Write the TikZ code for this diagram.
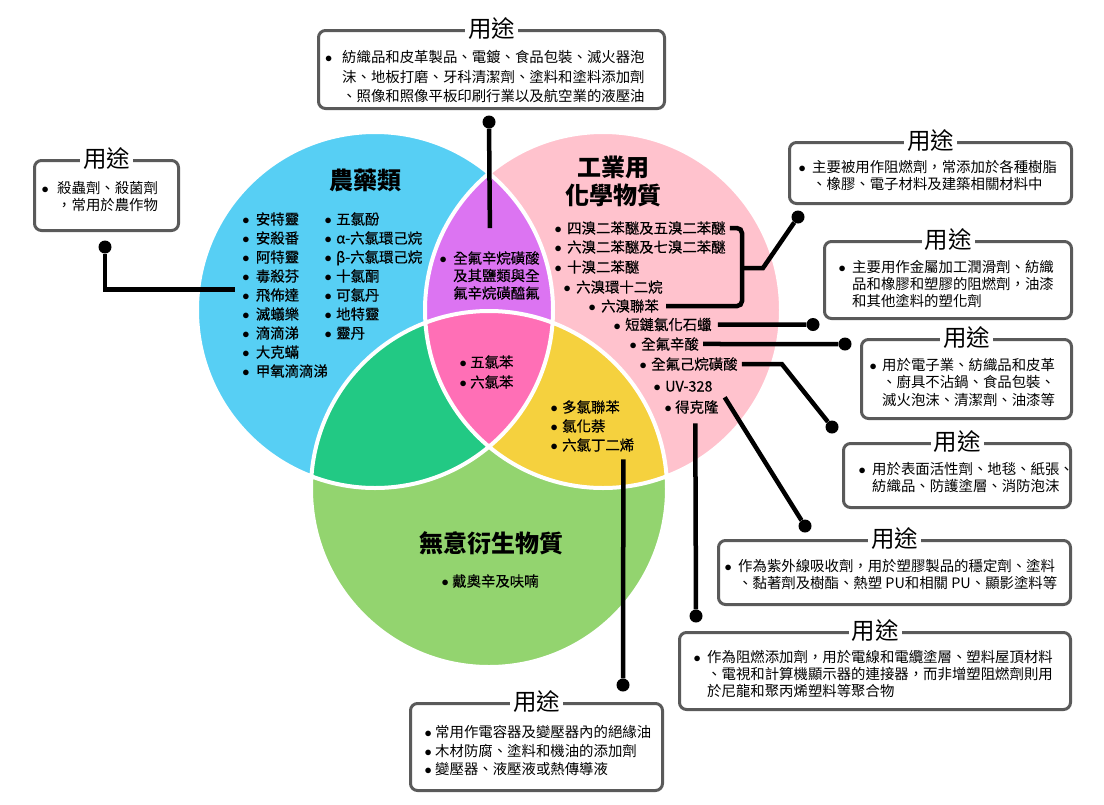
\documentclass[tikz,border=0pt]{standalone}
\usepackage{fontspec}
\setmainfont{Noto Sans CJK TC}
\newfontfamily\listfont{Noto Sans CJK TC}[FakeBold=0.4]
\usetikzlibrary{positioning}
\definecolor{pestblue}{HTML}{57CFF4}
\definecolor{indupink}{HTML}{FFC2CD}
\definecolor{uningreen}{HTML}{93D46F}
\definecolor{lensviolet}{HTML}{DC74F2}
\definecolor{corepink}{HTML}{FF6FB6}
\definecolor{mixgreen}{HTML}{22C984}
\definecolor{mixyellow}{HTML}{F5D13E}
\definecolor{boxgray}{HTML}{5A5A5A}
\newcommand\bl{\makebox[6pt]{$\bullet$}}
\newcommand\uselist[2][7pt]{\begin{tabular}[t]{@{}l@{\hspace{#1}}l@{}}#2\end{tabular}}

\begin{document}
\begin{tikzpicture}[x=1pt,y=-1pt,
  usebox/.style={draw=boxgray,line width=3pt,rounded corners=7pt,fill=white,inner sep=0pt,anchor=north west},
  usetag/.style={fill=white,inner xsep=3pt,inner ysep=0pt,font=\fontsize{23.5}{26}\selectfont},
  usetext/.style={inner sep=0pt,anchor=base west,font=\fontsize{14.4}{16.8}\selectfont},
  item/.style={inner sep=0pt,anchor=base west,font=\listfont\fontsize{14.4}{19}\selectfont},
  title/.style={inner sep=0pt,align=center,font=\fontsize{24}{28}\selectfont\bfseries},
  enddot/.style={circle,fill=black,inner sep=0pt,minimum size=13pt},
  link/.style={line width=4.5pt}]

\useasboundingbox (0,0) rectangle (1104,804);

% the three circles
\coordinate (pest) at (375,310);
\coordinate (indu) at (603,310);
\coordinate (unin) at (489,489);
\fill[pestblue] (pest) circle[radius=178pt];
\fill[indupink] (indu) circle[radius=178pt];
\fill[uningreen] (unin) circle[radius=178pt];
\begin{scope}
  \clip (pest) circle[radius=178pt];
  \fill[lensviolet] (indu) circle[radius=178pt];
  \fill[mixgreen] (unin) circle[radius=178pt];
\end{scope}
\begin{scope}
  \clip (indu) circle[radius=178pt];
  \fill[mixyellow] (unin) circle[radius=178pt];
  \clip (pest) circle[radius=178pt];
  \fill[corepink] (unin) circle[radius=178pt];
\end{scope}
\draw[white,line width=4pt] (pest) circle[radius=178pt] (indu) circle[radius=178pt] (unin) circle[radius=178pt];

% titles
\node[title] (pesttitle) at (365,180) {農藥類};
\node[title] (indutitle) at (613,181) {工業用\\化學物質};
\node[title] (unintitle) at (491,543) {無意衍生物質};

% lists in the circles
\node[item] (pestA) at (242.7,224.5) {\uselist[7pt]{\bl&安特靈\\\bl&安殺番\\\bl&阿特靈\\\bl&毒殺芬\\\bl&飛佈達\\\bl&滅蟻樂\\\bl&滴滴涕\\\bl&大克蟎\\\bl&甲氧滴滴涕}};
\node[item] (pestB) at (325,224.5) {\uselist[5pt]{\bl&五氯酚\\\bl&α-六氯環己烷\\\bl&β-六氯環己烷\\\bl&十氯酮\\\bl&可氯丹\\\bl&地特靈\\\bl&靈丹}};
\node[item,font=\listfont\fontsize{14.4}{17.5}\selectfont] (pfos) at (440,263.5) {\uselist[7pt]{\bl&全氟辛烷磺酸\\&及其鹽類與全\\&氟辛烷磺醯氟}};
\node[item,font=\listfont\fontsize{14.4}{20}\selectfont] (core) at (460,367.5) {\uselist[4pt]{\bl&五氯苯\\\bl&六氯苯}};
\node[item] (ylist) at (551,412.5) {\uselist[5pt]{\bl&多氯聯苯\\\bl&氯化萘\\\bl&六氯丁二烯}};
\node[item] (dioxin) at (442,586.5) {\uselist[4pt]{\bl&戴奧辛及呋喃}};

\node[item] (pbde) at (555,233.5) {\bl\hspace{6pt}四溴二苯醚及五溴二苯醚};
\node[item] (hbde) at (555,252.5) {\bl\hspace{6pt}六溴二苯醚及七溴二苯醚};
\node[item] (dbde) at (555,272.5) {\bl\hspace{6pt}十溴二苯醚};
\node[item] (hbcd) at (564,292.5) {\bl\hspace{6pt}六溴環十二烷};
\node[item] (pbb) at (589,311.5) {\bl\hspace{6pt}六溴聯苯};
\node[item] (sccp) at (614,330) {\bl\hspace{5pt}短鏈氯化石蠟};
\node[item] (pfoa) at (630,349.5) {\bl\hspace{5pt}全氟辛酸};
\node[item] (pfhxs) at (640,369.5) {\bl\hspace{5pt}全氟己烷磺酸};
\node[item] (uv) at (654,391.5) {\bl\hspace{5pt}UV-328};
\node[item] (dp) at (665,412.5) {\bl\hspace{4pt}得克隆};

% dots
\node[enddot] (d0) at (105,247) {};
\node[enddot] (d1) at (489,122) {};
\node[enddot] (d2) at (798,217) {};
\node[enddot] (d3) at (813,324.5) {};
\node[enddot] (d4) at (845,344) {};
\node[enddot] (d5) at (832,427) {};
\node[enddot] (d6) at (805,526) {};
\node[enddot] (d7) at (696,616) {};
\node[enddot] (d8) at (623,685) {};
\coordinate (brk) at (742,268);
\coordinate (brk2) at (763,268);

% connectors
\draw[link] (d0) |- ([xshift=-8pt,yshift=7pt]pestA.west);
\draw[link] (d1) -- ([yshift=23pt]pfos.north);
\draw[link,rounded corners=5pt] ([xshift=4pt]pbde.east) -| (brk) |- ([xshift=7pt]pbb.east);
\draw[link] (brk) -- (brk2) -- (d2);
\draw[link] ([xshift=6pt]sccp.east) -- (d3);
\draw[link] ([xshift=4pt]pfoa.east) -- (d4);
\draw[link] ([xshift=4pt]pfhxs.east) -- ++(40,0) -- (d5);
\draw[link] ([xshift=12pt,yshift=-11pt]uv.east) -- (d6);
\draw[link] ([xshift=3.5pt,yshift=-9.5pt]dp.south) -- (d7);
\draw[link] ([xshift=-11pt,yshift=-3pt]ylist.south east) -- (d8);

% usage boxes
\node[usebox,minimum width=144pt,minimum height=70pt] (u0) at (33,159) {};
\node[usetag] (u0tag) at (u0.north) {用途};
\node[usetext] (u0t) at (42,193.5) {\uselist[9pt]{\bl&殺蟲劑、殺菌劑\\&，常用於農作物}};

\node[usebox,minimum width=346pt,minimum height=78pt] (u1) at (317,29) {};
\node[usetag] (u1tag) at (u1.north) {用途};
\node[usetext,font=\fontsize{14.4}{19.7}\selectfont] (u1t) at (325.5,62.5) {\uselist[10.5pt]{\bl&紡織品和皮革製品、電鍍、食品包裝、滅火器泡\\&沫、地板打磨、牙科清潔劑、塗料和塗料添加劑\\&、照像和照像平板印刷行業以及航空業的液壓油}};

\node[usebox,minimum width=282pt,minimum height=61pt] (u2) at (788,141) {};
\node[usetag] (u2tag) at (u2.north) {用途};
\node[usetext] (u2t) at (799,172.5) {\uselist{\bl&主要被用作阻燃劑，常添加於各種樹脂\\&、橡膠、電子材料及建築相關材料中}};

\node[usebox,minimum width=247pt,minimum height=77pt] (u3) at (823,240) {};
\node[usetag] (u3tag) at (u3.north) {用途};
\node[usetext] (u3t) at (839,272.5) {\uselist{\bl&主要用作金屬加工潤滑劑、紡織\\&品和橡膠和塑膠的阻燃劑，油漆\\&和其他塗料的塑化劑}};

\node[usebox,minimum width=210pt,minimum height=79pt] (u4) at (860,338) {};
\node[usetag] (u4tag) at (u4.north) {用途};
\node[usetext] (u4t) at (870,370.5) {\uselist[6pt]{\bl&用於電子業、紡織品和皮革\\&、廚具不沾鍋、食品包裝、\\&滅火泡沫、清潔劑、油漆等}};

\node[usebox,minimum width=227pt,minimum height=64pt] (u5) at (842,442) {};
\node[usetag] (u5tag) at (u5.north) {用途};
\node[usetext] (u5t) at (859,474.5) {\uselist{\bl&用於表面活性劑、地毯、紙張、\\&紡織品、防護塗層、消防泡沫}};

\node[usebox,minimum width=352pt,minimum height=64pt] (u6) at (717,539) {};
\node[usetag] (u6tag) at (u6.north) {用途};
\node[usetext] (u6t) at (725,571.5) {\uselist{\bl&作為紫外線吸收劑，用於塑膠製品的穩定劑、塗料\\&、黏著劑及樹酯、熱塑 PU和相關 PU、顯影塗料等}};

\node[usebox,minimum width=391pt,minimum height=77pt] (u7) at (678,631) {};
\node[usetag] (u7tag) at (u7.north) {用途};
\node[usetext] (u7t) at (694,662.5) {\uselist{\bl&作為阻燃添加劑，用於電線和電纜塗層、塑料屋頂材料\\&、電視和計算機顯示器的連接器，而非增塑阻燃劑則用\\&於尼龍和聚丙烯塑料等聚合物}};

\node[usebox,minimum width=252pt,minimum height=87pt] (u8) at (409,702) {};
\node[usetag] (u8tag) at (u8.north) {用途};
\node[usetext,font=\fontsize{14.4}{18.5}\selectfont] (u8t) at (425,737.5) {\uselist[4pt]{\bl&常用作電容器及變壓器內的絕緣油\\\bl&木材防腐、塗料和機油的添加劑\\\bl&變壓器、液壓液或熱傳導液}};

\end{tikzpicture}
\end{document}
